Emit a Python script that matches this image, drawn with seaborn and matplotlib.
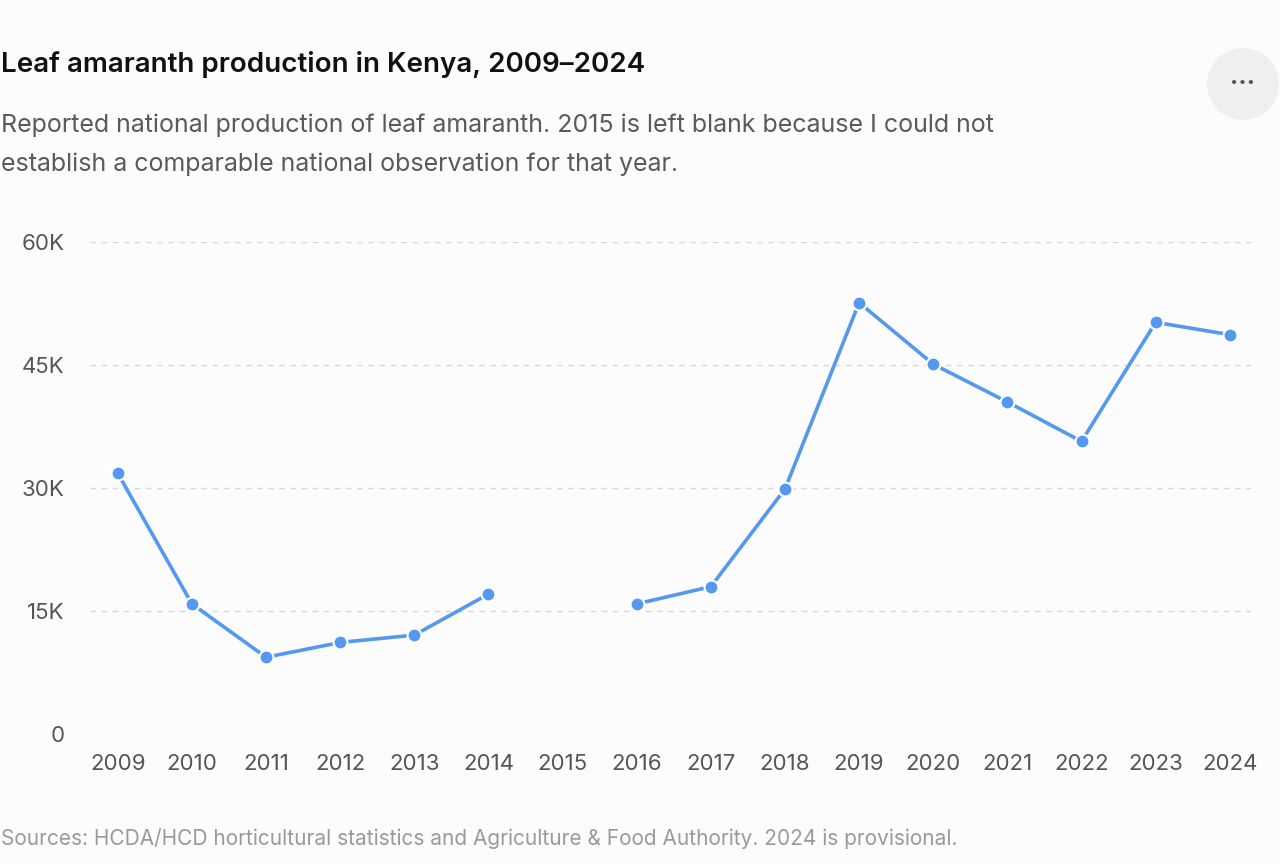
import pandas as pd
import numpy as np
from matplotlib import pyplot as plt
from matplotlib.patches import Circle
import seaborn as sns

years = [2009, 2010, 2011, 2012, 2013, 2014, 2016, 2017, 2018, 2019, 2020, 2021, 2022, 2023, 2024]
production = [31800, 15900, 9400, 11200, 12100, 17100, 15900, 18000, 29900, 52600, 45100, 40500, 35700, 50200, 48700]
# 2015 has no observation, so the line is split into two runs
segment = [0, 0, 0, 0, 0, 0, 1, 1, 1, 1, 1, 1, 1, 1, 1]
yticks = [0, 15000, 30000, 45000, 60000]
ytick_labels = ['0', '15K', '30K', '45K', '60K']

df = pd.DataFrame({'year': years, 'production': production, 'segment': segment})

sns.set_style('white')
plt.rcParams['font.family'] = ['Inter', 'DejaVu Sans']

fig = plt.figure(figsize=(12.8, 8.64), dpi=100, facecolor='#fcfcfd')
ax = fig.add_axes([0.07, 0.15, 0.907, 0.57])
ax.set_facecolor('#fcfcfd')

blue = '#5499ef'
sns.lineplot(data=df, x='year', y='production', units='segment', estimator=None,
             color=blue, linewidth=2.6, marker='o', markersize=10,
             markeredgecolor='white', markeredgewidth=1.5, ax=ax)

ax.set_ylim(0, 60000)
ax.set_xlim(2008.62, 2024.28)
ax.set_yticks(yticks)
ax.set_yticklabels(ytick_labels)
ax.set_xticks(range(2009, 2025))
ax.set_xticklabels([str(y) for y in range(2009, 2025)])
ax.tick_params(axis='both', length=0, labelsize=16, colors='#555555')
ax.tick_params(axis='x', pad=14)
ax.tick_params(axis='y', pad=18)
ax.grid(axis='y', color='#d8d8d8', linestyle=(0, (4, 4)), linewidth=1)
ax.set_axisbelow(True)
for s in ax.spines.values():
    s.set_visible(False)
ax.set_xlabel('')
ax.set_ylabel('')

fig.text(0.001, 0.925, 'Leaf amaranth production in Kenya, 2009\u20132024',
         fontsize=20, fontweight='semibold', color='#111111', va='center')
fig.text(0.001, 0.855, 'Reported national production of leaf amaranth. 2015 is left blank because I could not',
         fontsize=18, color='#5a5a5a', va='center')
fig.text(0.001, 0.81, 'establish a comparable national observation for that year.',
         fontsize=18, color='#5a5a5a', va='center')
fig.text(0.001, 0.029, 'Sources: HCDA/HCD horticultural statistics and Agriculture & Food Authority. 2024 is provisional.',
         fontsize=15, color='#9a9a9a', va='center')

circ = Circle((1243 / 100, 8.64 - 84 / 100), 0.36, transform=fig.dpi_scale_trans,
              facecolor='#efefef', edgecolor='none')
fig.patches.append(circ)
fig.text(1243 / 1280, 1 - 84 / 864, '\u00b7\u00b7\u00b7', fontsize=18, color='#555555',
         ha='center', va='center', fontweight='bold')

plt.savefig('out.png', dpi=100, facecolor=fig.get_facecolor())
